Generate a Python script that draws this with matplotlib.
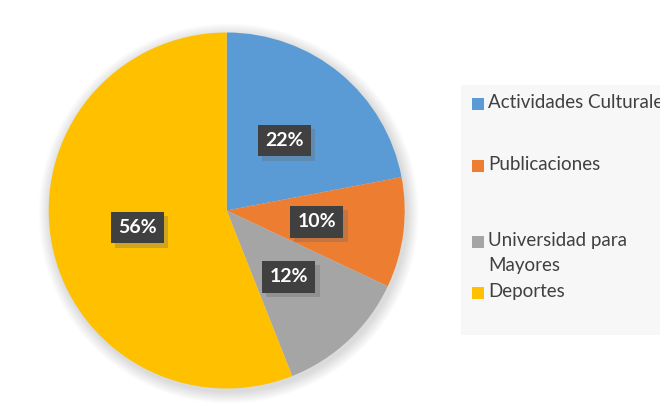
import matplotlib.pyplot as plt
import matplotlib.patheffects as pe
from matplotlib.patches import Rectangle, Circle

categorias = ["Actividades Culturales", "Publicaciones", "Universidad para\nMayores", "Deportes"]
porcentajes = [22, 10, 12, 56]
colores = ["#5B9BD5", "#ED7D31", "#A5A5A5", "#FFC000"]
leyenda_y = [104, 166, 242, 293]

plt.rcParams['font.family'] = ['Lato', 'DejaVu Sans']

W, H = 660, 409
fig = plt.figure(figsize=(6.6, 4.09), dpi=100)
ax = fig.add_axes([0, 0, 1, 1])

cx, cy, r = 226.7, H - 210.5, 178

# sombra suave alrededor del pastel
for k in range(12):
    ax.add_patch(Circle((cx + 2, cy - 3), r + 12 - k, color="#000000", alpha=0.012, lw=0, zorder=0))

wedges, textos, pcts = ax.pie(
    porcentajes, colors=colores, startangle=90, counterclock=False,
    center=(cx, cy), radius=r, autopct='%d%%', pctdistance=0.51,
    wedgeprops=dict(linewidth=0), frame=True,
    textprops=dict(color='white', fontsize=14, fontweight='bold'))
ax.set_xlim(0, W)
ax.set_ylim(0, H)
ax.set_aspect('equal')
ax.axis('off')

for t in pcts:
    t.set_bbox(dict(boxstyle='square,pad=0.38', facecolor='#404040', edgecolor='none'))
    t.get_bbox_patch().set_path_effects([
        pe.SimplePatchShadow(offset=(3, -3), shadow_rgbFace='#666666', alpha=0.3),
        pe.Normal()])
    t.set_zorder(3)

# leyenda con fondo gris claro
ax.add_patch(Rectangle((461, H - 335), 210, 250, facecolor='#F7F7F7', edgecolor='none', zorder=1))
for nombre, color, yy in zip(categorias, colores, leyenda_y):
    lineas = nombre.count("\n")
    ax.add_patch(Rectangle((472, H - yy - 6), 12, 12, facecolor=color, edgecolor='none', zorder=2))
    ax.text(488, H - (yy - 1 + lineas * 12), nombre, fontsize=13.5, color='#404040',
            ha='left', va='center', linespacing=1.55, zorder=2)

fig.savefig("out.png", dpi=100, facecolor='white')
